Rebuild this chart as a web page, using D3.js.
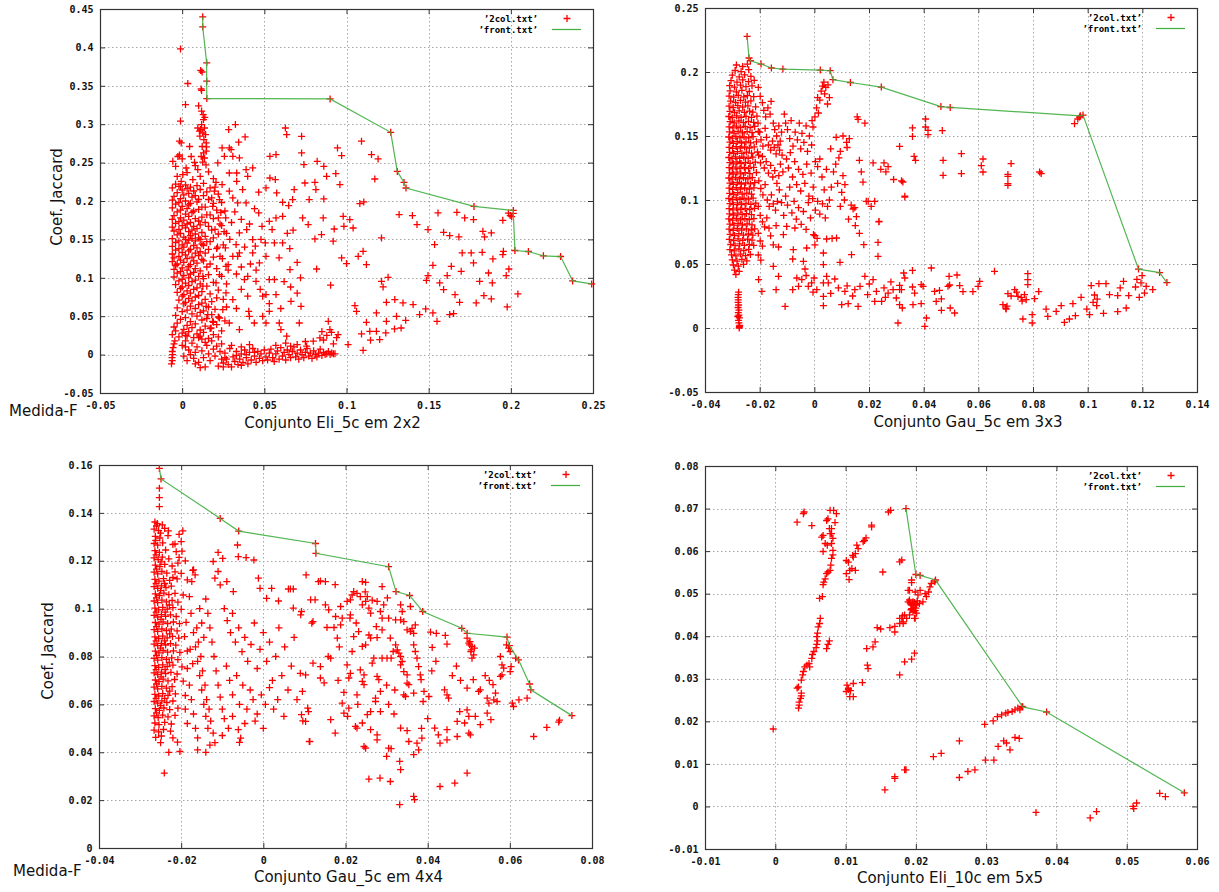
<!DOCTYPE html>
<html><head><meta charset="utf-8">
<script src="https://cdn.jsdelivr.net/npm/d3@7"></script>
<style>body{margin:0;background:#fff}</style></head>
<body><svg id="c" width="1219" height="892"></svg>
<script>
// ---------- Panel 1: Conjunto Eli_5c em 2x2 ----------
const eli2Front = [[.0125,.4398],[.0125,.4268],[.0149,.380],[.0149,.356],[.015,.3333],[.090,.333],[.1269,.2894],[.1309,.2385],[.135,.2242],[.1362,.2169],[.1776,.193],[.2015,.1877],[.2015,.184],[.2025,.1355],[.2107,.1342],[.2198,.1286],[.2303,.1277],[.2376,.096],[.2492,.0921]];
const eli2Upper = [[-.001,.398],[.0034,.353],[.0113,.370],[.0121,.368],[.0115,.346],[.0118,.344],[.002,.3255],[-.001,.304],[.010,.324],[.0118,.317],[.0128,.3125],[.013,.306],[.0118,.2995],[.0136,.295],[.0112,.293],[.0126,.2886],[.0142,.2865],[.0132,.28],[.0146,.2756],[.0122,.271],[.013,.2626],[.0116,.258],[.0146,.2648],[.0136,.256],[.0095,.295],[.0105,.291],[.0138,.309],[.0108,.2845],[.0148,.2705],[.0125,.2505],[.0145,.247],[-.0016,.278],[-.0006,.2756],[.0045,.271],[-.0026,.258],[-.0016,.260],[0,.255],[.0055,.258],[-.0057,.2517],[.0075,.2504],[-.004,.2452],[.0024,.243],[.0095,.2409],[.011,.232],[.0065,.2279],[.0004,.2344],[-.0006,.2257],[-.002,.2192],[.003,.237],[-.003,.232],[.008,.246],[.016,.238],[.019,.229]];
const eli2Column = [[-.004,.222],[-.001,.219],[.002,.221],[.005,.218],[.009,.220],[.013,.223],[.017,.217],[-.006,.217],[.000,.214],[.003,.216],[.007,.213],[.011,.215],[.020,.218],[-.003,.211],[.001,.208],[.004,.210],[.008,.207],[.015,.212],[.022,.209],[-.005,.206],[-.001,.203],[.006,.205],[.010,.202],[.013,.207],[.018,.204],[-.006,.201],[-.002,.198],[.002,.200],[.005,.197],[.009,.199],[.016,.202],[.024,.198],[-.004,.196],[.000,.193],[.004,.195],[.012,.192],[.019,.197],[-.006,.191],[-.001,.188],[.003,.190],[.007,.187],[.010,.189],[.014,.192],[.021,.188],[-.003,.186],[.002,.183],[.006,.185],[.017,.182],[.026,.187],[-.005,.181],[-.001,.178],[.004,.180],[.008,.177],[.012,.179],[.015,.182],[.022,.178],[-.006,.176],[-.002,.173],[.001,.175],[.005,.172],[.010,.174],[.019,.177],[-.004,.171],[.000,.168],[.003,.170],[.007,.167],[.011,.169],[.014,.172],[.024,.168],[-.006,.166],[-.002,.163],[.002,.165],[.006,.162],[.009,.164],[.016,.167],[.020,.163],[-.005,.161],[-.001,.158],[.004,.160],[.008,.157],[.012,.159],[.018,.162],[.027,.158],[-.003,.156],[.001,.153],[.005,.155],[.010,.152],[.014,.154],[.022,.157],[-.006,.151],[-.002,.148],[.002,.150],[.004,.149],[.006,.151],[.008,.148],[.011,.150],[.015,.147],[.019,.152],[-.004,.146],[.000,.143],[.003,.145],[.007,.142],[.012,.144],[.017,.147],[.025,.143],[-.006,.141],[-.002,.138],[.001,.140],[.005,.137],[.009,.139],[.013,.142],[.021,.138],[-.004,.136],[.000,.133],[.004,.135],[.008,.132],[.011,.134],[.016,.137],[-.006,.131],[-.002,.128],[.002,.130],[.006,.127],[.010,.129],[.014,.132],[.023,.128],[-.005,.126],[-.001,.123],[.003,.125],[.007,.122],[.012,.124],[.019,.127],[-.006,.121],[-.003,.118],[.001,.120],[.005,.117],[.009,.119],[.013,.122],[.017,.118],[-.004,.116],[.000,.113],[.004,.115],[.008,.112],[.015,.114],[.028,.117],[-.005,.111],[-.001,.108],[.003,.110],[.007,.107],[.011,.109],[.021,.112],[-.003,.106],[.001,.103],[.005,.105],[.010,.102],[.016,.104],[-.005,.101],[.000,.098],[.004,.100],[.008,.097],[.013,.099],[.024,.102],[-.002,.096],[.002,.093],[.006,.095],[.011,.092],[.019,.094],[-.004,.091],[.000,.088],[.004,.090],[.009,.087],[.015,.089],[.027,.092],[-.001,.086],[.003,.083],[.007,.085],[.012,.082],[.022,.084],[-.003,.081],[.001,.078],[.005,.080],[.010,.077],[.017,.079],[.000,.076],[.004,.073],[.008,.075],[.014,.072],[.021,.074],[-.002,.071],[.002,.068],[.006,.070],[.012,.067],[.018,.069],[.025,.072],[.001,.066],[.005,.063],[.010,.065],[.016,.062],[-.003,.061],[.003,.058],[.008,.060],[.013,.057],[.020,.059],[.027,.062],[.000,.056],[.006,.053],[.011,.055],[.018,.052],[-.004,.051],[.002,.048],[.009,.050],[.015,.047],[.022,.049],[-.001,.046],[.005,.043],[.012,.045],[.019,.042],[.026,.044],[-.003,.041],[.003,.038],[.008,.040],[.014,.037],[.021,.039],[-.005,.036],[.001,.033],[.006,.035],[.011,.032],[.017,.034],[.024,.031],[-.004,.031],[.000,.028],[.004,.030],[.009,.027],[.013,.029],[.019,.026],[-.006,.026],[-.002,.023],[.002,.025],[.007,.022],[.011,.024],[.016,.021],[.022,.023]];
const eli2Middle = [[.0217,.2496],[.0243,.2691],[.0283,.293],[.0324,.2995],[.0383,.2834],[.0344,.2765],[.0287,.2691],[.0308,.2582],[.0348,.2561],[.0257,.2582],[.0298,.2669],[.0389,.2409],[.0429,.2431],[.0399,.2322],[.0332,.2365],[.0287,.2365],[.0332,.2257],[.0368,.2148],[.0287,.2127],[.0243,.2214],[.0206,.2244],[.0196,.2127],[.0227,.2018],[.0186,.1931],[.0308,.204],[.0338,.1975],[.0389,.1975],[.0466,.2114],[.051,.217],[.0534,.23],[.0567,.2279],[.0575,.2105],[.0628,.2951],[.0636,.2865],[.0571,.2604],[.0534,.2582],[.0682,.2148],[.0672,.2018],[.0611,.1983],[.0648,.194],[.0611,.1801],[.0571,.178],[.053,.1736],[.0547,.1628],[.0466,.1845],[.0486,.1671],[.0429,.1497],[.0393,.1628],[.0348,.1584],[.0328,.1432],[.0263,.1389],[.0308,.128],[.0348,.1324],[.0429,.1324],[.0445,.1411],[.0506,.1454],[.0561,.1454],[.0611,.1454],[.051,.128],[.047,.1194],[.0399,.102],[.0379,.0977],[.0449,.0955],[.053,.0977],[.0561,.0977],[.051,.0781],[.0571,.0781],[.053,.0664],[.053,.0564],[.049,.0499],[.0409,.0499],[.0399,.076],[.049,.076],[.0405,.0564],[.0439,.0412],[.051,.0412],[.0591,.0412],[.0601,.0326],[.0662,.0694],[.0723,.0629],[.0713,.0412],[.0636,.0239],[.0656,.1107],[.0338,.128],[.0267,.115],[.0227,.1042],[.0206,.0933],[.0267,.0803],[.0308,.0716],[.0247,.0586],[.0227,.0477],[.0287,.0412],[.0348,.0326],[.0126,.102],[.0126,.089],[.0146,.0629],[.0156,.0521],[.0186,.0434],[.0176,.0347],[.0235,.185],[.0265,.178],[.0300,.172],[.0320,.186],[.0360,.176],[.0410,.170],[.0255,.160],[.0290,.150],[.0380,.140],[.0415,.118],[.0245,.125],[.0280,.110],[.0330,.105],[.0360,.114],[.0215,.140],[.0230,.170],[.0440,.190],[.0480,.150],[.0590,.126],[.0640,.158],[.0675,.162],[.0655,.138],[.0700,.120],[.0720,.100],[.0660,.088],[.0600,.060],[.0620,.095],[.0700,.080],[.0450,.110],[.0475,.085],[.0360,.085],[.0330,.060]];
const eli2Right = [[.0727,.2843],[.0727,.2626],[.0741,.2474],[.0747,.2235],[.0808,.2244],[.0814,.2148],[.0822,.2517],[.0862,.2452],[.0879,.2322],[.0935,.2357],[.0945,.2691],[.097,.2591],[.096,.2214],[.1091,.2778],[.1152,.2604],[.1192,.2548],[.1172,.2287],[.1081,.1966],[.1105,.1988],[.0773,.2018],[.0862,.2027],[.0733,.178],[.0767,.1693],[.0858,.178],[.0808,.1506],[.0848,.1563],[.0919,.1476],[.0925,.1636],[.098,.1801],[.0984,.1671],[.102,.1758],[.104,.1649],[.097,.1259],[.1,.1185],[.1071,.128],[.1101,.1345],[.1121,.1172],[.0818,.1115],[.0903,.0903],[.1213,.1519],[.132,.1823],[.1401,.181],[.1429,.1693],[.1496,.1628],[.1557,.1845],[.1591,.1593],[.1628,.1549],[.1672,.1853],[.1684,.1532],[.1719,.178],[.1773,.1758],[.183,.1606],[.184,.1532],[.1881,.1584],[.1951,.1749],[.1996,.181],[.1536,.1432],[.1704,.1324],[.1759,.1324],[.1773,.1194],[.1826,.1332],[.1891,.1246],[.1951,.1302],[.1955,.1345],[.1526,.1163],[.1638,.115],[.1496,.1029],[.1486,.0968],[.1567,.0933],[.1591,.0846],[.1613,.1029],[.1698,.1085],[.181,.0955],[.1864,.1063],[.1887,.0933],[.1972,.1029],[.1988,.1115],[.1836,.0768],[.1881,.0725],[.1789,.0673],[.1978,.0621],[.2043,.079],[.1688,.0681],[.1253,.1007],[.1213,.0955],[.1223,.0881],[.1294,.0716],[.1344,.0673],[.1405,.0651],[.1482,.0595],[.1445,.0521],[.1526,.0543],[.1551,.0434],[.1628,.0521],[.1652,.0534],[.1243,.0681],[.1051,.0638],[.1061,.0564],[.1182,.0543],[.1121,.0421],[.1243,.0434],[.1304,.0499],[.136,.0447],[.1332,.0347],[.1292,.0334],[.1091,.0269],[.1142,.0304],[.1182,.0304],[.1239,.0282],[.1202,.0195],[.1146,.0187],[.1101,.0056],[.101,.013],[.0899,.0326],[.0909,.0291],[.0889,.0434],[.0949,.026],[.0838,.0217],[.0798,.0174],[.0757,.0109],[.1985,.1842],[.2005,.1795],[.1660,.0780],[.086,.019],[.088,.025],[.092,.014],[.094,.022],[.085,.030]];
const eli2Bottom = [[-.0065,-.012],[-.006,-.008],[-.0062,-.004],[-.0058,.000],[-.006,.004],[-.0055,.009],[-.005,.014],[-.0045,.018],[.000,.012],[.002,.018],[.004,.006],[.001,-.002],[.003,-.008],[.006,.015],[.008,.003],[.007,-.005],[.009,.010],[.010,-.010],[.012,.005],[.012,.020],[.013,-.004],[.015,.012],[.016,.001],[.017,-.008],[.018,.018],[.019,.007],[.020,-.002],[.003,.024],[.010,.022],[.005,.000],[.014,.016],[.021,.011],[.023,.004],[.024,-.006],[.002,.010],[.008,-.012],[.011,-.017],[.014,-.016],[.022,-.015],[.025,-.011],[.026,.002],[.027,-.006],[.028,-.013],[.029,.008],[.030,-.016],[.031,-.003],[.032,-.009],[.033,.004],[.034,-.013],[.035,-.006],[.036,.001],[.037,-.010],[.038,.006],[.039,-.004],[.040,-.012],[.041,.003],[.042,-.007],[.043,.008],[.044,-.002],[.045,-.010],[.046,.004],[.047,-.005],[.048,.001],[.049,-.008],[.050,.006],[.024,.014],[.030,.012],[.036,.010],[.041,.013],[.026,-.004],[.033,-.001],[.039,.000],[.044,.003],[.025,-.016],[.036,-.014],[.051,-.003],[.052,-.007],[.053,.002],[.054,.007],[.055,-.004],[.056,-.009],[.057,.001],[.058,.005],[.059,-.006],[.060,.009],[.061,-.002],[.062,.003],[.063,-.007],[.064,.006],[.065,.000],[.066,-.004],[.067,.004],[.068,.010],[.069,-.003],[.070,.002],[.071,-.006],[.072,.006],[.073,.000],[.074,-.004],[.075,.003],[.076,.008],[.077,-.002],[.078,.002],[.079,-.005],[.080,.005],[.081,.000],[.082,-.003],[.083,.002],[.084,.007],[.085,-.001],[.086,.003],[.087,.000],[.088,.001],[.089,.004],[.090,.000],[.091,.002],[.092,.001],[.093,.001],[.057,.012],[.063,.015],[.070,.013],[.075,.017],[.066,.011]];

// ---------- Panel 2: Conjunto Gau_5c em 3x3 ----------
const gau3Front = [[-.0246,.2278],[-.0239,.2109],[-.0234,.2088],[-.0195,.2062],[-.0157,.2031],[-.0115,.2023],[.0022,.2015],[.0058,.201],[.0068,.194],[.0132,.1918],[.0245,.1882],[.0463,.173],[.0497,.1723],[.0973,.1658],[.0983,.1663],[.1186,.046],[.1263,.0433],[.129,.0355]];
const gau3Column = [[-.0285,.2055],[-.0262,.2043],[-.0245,.2062],[-.0290,.2012],[-.0268,.2003],[-.0240,.2018],[-.0300,.1975],[-.0275,.1962],[-.0255,.1978],[-.0232,.1966],[-.0305,.1932],[-.0283,.1921],[-.0262,.1938],[-.0241,.1925],[-.0220,.1934],[-.0310,.1893],[-.0292,.1882],[-.0270,.1897],[-.0250,.1885],[-.0228,.1892],[-.0308,.1853],[-.0285,.1845],[-.0265,.1857],[-.0238,.1848],[-.0312,.1812],[-.0295,.1803],[-.0278,.1818],[-.0258,.1806],[-.0245,.1815],[-.0222,.1808],[-.0306,.1773],[-.0288,.1762],[-.0270,.1778],[-.0252,.1765],[-.0232,.1774],[-.0312,.1733],[-.0297,.1722],[-.0280,.1737],[-.0262,.1726],[-.0243,.1735],[-.0215,.1728],[-.0309,.1692],[-.0292,.1683],[-.0275,.1697],[-.0256,.1685],[-.0237,.1694],[-.0225,.1686],[-.0313,.1652],[-.0300,.1643],[-.0284,.1657],[-.0268,.1645],[-.0250,.1654],[-.0230,.1646],[-.0210,.1655],[-.0308,.1612],[-.0293,.1603],[-.0276,.1617],[-.0259,.1605],[-.0241,.1614],[-.0222,.1606],[-.0312,.1572],[-.0298,.1563],[-.0285,.1577],[-.0270,.1565],[-.0253,.1574],[-.0235,.1566],[-.0218,.1575],[-.0310,.1532],[-.0294,.1523],[-.0279,.1537],[-.0263,.1525],[-.0246,.1534],[-.0228,.1526],[-.0205,.1535],[-.0313,.1492],[-.0300,.1483],[-.0287,.1497],[-.0272,.1485],[-.0257,.1494],[-.0240,.1486],[-.0224,.1495],[-.0309,.1452],[-.0296,.1443],[-.0282,.1457],[-.0266,.1445],[-.0250,.1454],[-.0233,.1446],[-.0212,.1455],[-.0312,.1412],[-.0299,.1403],[-.0286,.1417],[-.0271,.1405],[-.0255,.1414],[-.0238,.1406],[-.0220,.1415],[-.0310,.1372],[-.0295,.1363],[-.0281,.1377],[-.0265,.1365],[-.0248,.1374],[-.0230,.1366],[-.0208,.1375],[-.0313,.1332],[-.0301,.1323],[-.0288,.1337],[-.0273,.1325],[-.0258,.1334],[-.0242,.1326],[-.0225,.1335],[-.0309,.1292],[-.0296,.1283],[-.0283,.1297],[-.0268,.1285],[-.0252,.1294],[-.0235,.1286],[-.0216,.1295],[-.0312,.1252],[-.0300,.1243],[-.0287,.1257],[-.0272,.1245],[-.0256,.1254],[-.0240,.1246],[-.0222,.1255],[-.0310,.1212],[-.0297,.1203],[-.0283,.1217],[-.0269,.1205],[-.0253,.1214],[-.0236,.1206],[-.0212,.1215],[-.0313,.1172],[-.0301,.1163],[-.0288,.1177],[-.0274,.1165],[-.0259,.1174],[-.0243,.1166],[-.0227,.1175],[-.0309,.1132],[-.0296,.1123],[-.0282,.1137],[-.0267,.1125],[-.0251,.1134],[-.0234,.1126],[-.0218,.1135],[-.0312,.1092],[-.0299,.1083],[-.0286,.1097],[-.0271,.1085],[-.0255,.1094],[-.0238,.1086],[-.0221,.1095],[-.0310,.1052],[-.0295,.1043],[-.0280,.1057],[-.0264,.1045],[-.0247,.1054],[-.0230,.1046],[-.0313,.1012],[-.0300,.1003],[-.0286,.1017],[-.0272,.1005],[-.0257,.1014],[-.0241,.1006],[-.0224,.1015],[-.0309,.0972],[-.0296,.0963],[-.0281,.0977],[-.0266,.0965],[-.0250,.0974],[-.0232,.0966],[-.0214,.0975],[-.0312,.0932],[-.0298,.0923],[-.0284,.0937],[-.0269,.0925],[-.0253,.0934],[-.0236,.0926],[-.0219,.0935],[-.0310,.0892],[-.0295,.0883],[-.0280,.0897],[-.0264,.0885],[-.0248,.0894],[-.0230,.0886],[-.0313,.0852],[-.0299,.0843],[-.0285,.0857],[-.0270,.0845],[-.0254,.0854],[-.0238,.0846],[-.0221,.0855],[-.0309,.0812],[-.0294,.0803],[-.0279,.0817],[-.0263,.0805],[-.0246,.0814],[-.0228,.0806],[-.0312,.0772],[-.0297,.0763],[-.0282,.0777],[-.0266,.0765],[-.0249,.0774],[-.0231,.0766],[-.0218,.0775],[-.0308,.0732],[-.0292,.0723],[-.0276,.0737],[-.0259,.0725],[-.0241,.0734],[-.0225,.0726],[-.0311,.0692],[-.0295,.0683],[-.0279,.0697],[-.0262,.0685],[-.0244,.0694],[-.0228,.0686],[-.0306,.0652],[-.0290,.0643],[-.0273,.0657],[-.0256,.0645],[-.0238,.0654],[-.0222,.0646],[-.0309,.0612],[-.0293,.0603],[-.0276,.0617],[-.0258,.0605],[-.0240,.0614],[-.0303,.0572],[-.0287,.0563],[-.0270,.0577],[-.0252,.0565],[-.0234,.0574],[-.0300,.0532],[-.0283,.0523],[-.0265,.0537],[-.0247,.0525],[-.0296,.0492],[-.0278,.0483],[-.0259,.0497],[-.0292,.0452],[-.0275,.0443],[-.0287,.0418]];
const gau3LowColumn = [[-.0275,.000],[-.0273,.002],[-.0276,.004],[-.0277,.006],[-.0274,.008],[-.0276,.010],[-.0278,.012],[-.0276,.014],[-.0279,.016],[-.0277,.018],[-.0279,.020],[-.0278,.022],[-.0279,.024],[-.0278,.026],[-.0277,.028],[-.0274,.001],[-.0280,.009]];
const gau3Middle = [[-.0205,.188],[-.0198,.181],[-.0190,.176],[-.0185,.170],[-.0178,.165],[-.0170,.172],[-.0162,.167],[-.0158,.177],[-.0150,.160],[-.0145,.155],[-.0138,.150],[-.0130,.158],[-.0125,.146],[-.0120,.153],[-.0206,.160],[-.0200,.153],[-.0195,.147],[-.0188,.142],[-.0180,.156],[-.0175,.149],[-.0168,.143],[-.0160,.139],[-.0153,.146],[-.0147,.141],[-.0140,.136],[-.0133,.143],[-.0127,.139],[-.0204,.135],[-.0197,.129],[-.0190,.134],[-.0183,.125],[-.0176,.130],[-.0168,.121],[-.0160,.127],[-.0152,.118],[-.0145,.123],[-.0137,.113],[-.0130,.119],[-.0203,.115],[-.0196,.109],[-.0188,.104],[-.0180,.112],[-.0172,.100],[-.0165,.095],[-.0157,.104],[-.0150,.097],[-.0142,.092],[-.0135,.099],[-.0205,.095],[-.0198,.088],[-.0190,.083],[-.0182,.079],[-.0174,.086],[-.0166,.078],[-.0205,.074],[-.0198,.068],[-.0190,.064],[-.0205,.057],[-.0196,.053],[-.0160,.072],[-.0150,.065],[-.0140,.080],[-.0128,.108],[-.0124,.128],[-.0118,.135],[-.0115,.122],[-.0120,.098],[-.0112,.088],[-.0110,.167],[-.0105,.160],[-.0098,.155],[-.0090,.148],[-.0085,.162],[-.0078,.142],[-.0070,.153],[-.0062,.147],[-.0055,.160],[-.0050,.140],[-.0045,.152],[-.0038,.145],[-.0030,.158],[-.0025,.138],[-.0018,.150],[-.0010,.143],[-.0005,.157],[.0002,.165],[.0008,.172],[.0015,.168],[.0020,.178],[.0025,.185],[.0030,.189],[.0035,.192],[.0042,.188],[.0050,.190],[.0055,.180],[.0048,.175],[.0038,.183],[.0012,.180],[-.0008,.162],[-.0102,.132],[-.0095,.125],[-.0088,.137],[-.0080,.118],[-.0072,.130],[-.0065,.112],[-.0058,.124],[-.0050,.107],[-.0042,.120],[-.0035,.113],[-.0028,.128],[-.0020,.103],[-.0012,.121],[-.0004,.110],[.0004,.130],[.0012,.126],[.0020,.132],[.0028,.118],[.0036,.108],[.0044,.124],[-.0105,.103],[-.0098,.096],[-.0090,.110],[-.0082,.090],[-.0074,.099],[-.0066,.085],[-.0058,.094],[-.0048,.081],[-.0040,.091],[-.0030,.077],[-.0022,.098],[-.0014,.086],[-.0006,.101],[.0004,.092],[.0012,.099],[.0020,.089],[.0030,.097],[.0040,.086],[.0048,.095],[.0055,.100],[-.0003,.073],[.0010,.070],[.0002,.065],[.0062,.110],[.0070,.122],[.0078,.128],[.0085,.113],[.0090,.133],[.0095,.138],[.0100,.106],[.0105,.119],[.0112,.112],[.0120,.141],[.0128,.148],[.0135,.096],[.0142,.093],[.0148,.094],[.0154,.087],[.0157,.165],[.0160,.163],[.0165,.131],[.0172,.122],[.0178,.114],[.0185,.160],[.0190,.099],[.0197,.099],[.0208,.095],[.0215,.129],[.0221,.099],[.0236,.083],[.0243,.124],[.0255,.129],[.0262,.122],[.0270,.126],[.0290,.116],[.0319,.115],[.0331,.103],[.0080,.149],[.0105,.150],[.0118,.145],[.0060,.140],[.0065,.070],[.0095,.095],[.0110,.100],[.0150,.080],[.0165,.074],[.0125,.085]];
const gau3Right = [[.0312,.1419],[.0359,.1563],[.0359,.1497],[.0407,.1633],[.0407,.157],[.0416,.1544],[.0416,.151],[.0468,.1542],[.0365,.1341],[.037,.131],[.0471,.131],[.0538,.1362],[.0471,.1193],[.0538,.1206],[.0611,.1268],[.0617,.132],[.0617,.1219],[.072,.1284],[.0708,.12],[.0708,.1185],[.0708,.1128],[.0708,.1115],[.0824,.1219],[.083,.1206],[.0324,.1141],[.0331,.1023],[.0952,.1596],[.0964,.1633],[.097,.1648]];
const gau3Bottom = [[.0327,.043],[.0359,.045],[.0428,.0469],[.0312,.0333],[.0312,.03],[.0359,.032],[.0367,.0273],[.0391,.0339],[.0398,.0326],[.044,.0286],[.0458,.0294],[.0465,.0227],[.0493,.0404],[.0522,.0414],[.0489,.0326],[.0495,.0336],[.0532,.0331],[.0544,.0284],[.058,.0284],[.0599,.0326],[.0605,.0365],[.0659,.0443],[.069,.0182],[.0702,.0148],[.0708,.0268],[.0733,.0299],[.0745,.0247],[.0769,.026],[.0781,.0424],[.0781,.0378],[.0781,.0339],[.0775,.0221],[.0806,.0229],[.0821,.0284],[.0763,.007],[.0797,.0104],[.0797,.0039],[.0848,.0148],[.0854,.0091],[.0885,.013],[.0903,.0174],[.0915,.0044],[.0933,.007],[.0946,.019],[.0955,.0096],[.0976,.024],[.0997,.0148],[.1013,.0331],[.1007,.0104],[.1025,.0258],[.1033,.0174],[.1041,.0346],[.1058,.0115],[.1067,.0346],[.108,.026],[.111,.0253],[.111,.0128],[.1119,.0313],[.1131,.0365],[.1141,.0156],[.115,.0253],[.1175,.032],[.1189,.024],[.1199,.0409],[.1208,.0273],[.1214,.0326],[.1238,.03],[.0312,.0182],[.0361,.0182],[.0391,.019],[.041,.0078],[.0404,.0013],[.0446,.0208],[.0465,.0138],[.0497,.0156],[.0513,.0117],[.0700,.0155],[.0705,.0170],[.0720,.0250],[.0740,.0280],[.0757,.0240],[.0760,.0210],[.1020,.0200],[.1035,.0225],[.1180,.0380],[.1195,.0352],[-.0204,.0378],[-.0192,.0286],[-.014,.0299],[-.0107,.0169],[-.0079,.0299],[-.0046,.0378],[-.0079,.0539],[-.004,.0521],[-.0034,.0461],[-.0064,.0391],[-.0058,.0326],[-.0022,.0326],[-.001,.0352],[.0009,.0299],[-.0001,.0391],[.0033,.0352],[.0033,.0247],[.0033,.0174],[.0051,.0352],[.0075,.0383],[.0088,.0313],[.01,.0182],[.0112,.0286],[.0124,.019],[.0148,.0299],[.016,.0169],[.0167,.0326],[.0185,.0404],[.0201,.0344],[.0215,.0378],[.0221,.0208],[.0227,.0286],[.0246,.0208],[.0255,.0313],[.027,.0273],[.0288,.0299],[.03,.0234],[.0319,.0299],[.0322,.0156],[.0331,.0391],[.0306,.0039],[-.0131,.0404],[-.015,.0482],[-.0077,.0612],[-.0113,.0729],[-.0131,.0633],[.0033,.0495],[.0045,.0404],[.0094,.0513],[.0136,.0573],[.0233,.056],[.0233,.0669],[.0181,.0651],[.0237,.0833],[.0033,.0586],[.0002,.0721],[-.0028,.0625],[-.0071,.0781],[-.0101,.0794],[.0081,.0703],[.0045,.0695],[-.0005,.0280],[.0060,.0270],[.0140,.0250],[.0195,.0260],[.0260,.0240],[.0280,.0360],[.0120,.0330],[-.0030,.0410]];

// ---------- Panel 3: Conjunto Gau_5c em 4x4 ----------
const gau4Front = [[-.0253,.1586],[-.0249,.1542],[-.0105,.1377],[-.006,.1324],[.0127,.1272],[.0128,.1231],[.0305,.1175],[.0323,.1071],[.0356,.1055],[.0388,.0988],[.0483,.0918],[.0496,.0897],[.0593,.0881],[.0599,.0845],[.0621,.0786],[.0648,.0685],[.0651,.0661],[.0751,.0553]];
const gau4Column = [[-.0264,.1362],[-.0258,.1355],[-.0266,.1332],[-.0255,.1326],[-.0240,.1335],[-.0263,.1302],[-.0252,.1295],[-.0232,.1305],[-.0266,.1272],[-.0257,.1265],[-.0245,.1275],[-.0220,.1268],[-.0264,.1242],[-.0253,.1235],[-.0238,.1245],[-.0212,.1238],[-.0266,.1212],[-.0256,.1205],[-.0246,.1215],[-.0230,.1208],[-.0205,.1214],[-.0263,.1182],[-.0252,.1175],[-.0240,.1185],[-.0222,.1178],[-.0266,.1152],[-.0257,.1145],[-.0247,.1155],[-.0235,.1148],[-.0215,.1154],[-.0200,.1147],[-.0264,.1122],[-.0254,.1115],[-.0243,.1125],[-.0228,.1118],[-.0210,.1124],[-.0266,.1092],[-.0257,.1085],[-.0248,.1095],[-.0237,.1088],[-.0224,.1094],[-.0263,.1062],[-.0253,.1055],[-.0242,.1065],[-.0230,.1058],[-.0215,.1064],[-.0195,.1057],[-.0266,.1032],[-.0257,.1025],[-.0247,.1035],[-.0236,.1028],[-.0222,.1034],[-.0208,.1027],[-.0264,.1002],[-.0255,.0995],[-.0245,.1005],[-.0234,.0998],[-.0220,.1004],[-.0200,.0997],[-.0266,.0972],[-.0257,.0965],[-.0248,.0975],[-.0238,.0968],[-.0226,.0974],[-.0212,.0967],[-.0263,.0942],[-.0254,.0935],[-.0244,.0945],[-.0233,.0938],[-.0219,.0944],[-.0204,.0937],[-.0188,.0943],[-.0266,.0912],[-.0257,.0905],[-.0247,.0915],[-.0236,.0908],[-.0224,.0914],[-.0210,.0907],[-.0264,.0882],[-.0255,.0875],[-.0245,.0885],[-.0234,.0878],[-.0221,.0884],[-.0206,.0877],[-.0192,.0883],[-.0266,.0852],[-.0257,.0845],[-.0248,.0855],[-.0238,.0848],[-.0226,.0854],[-.0213,.0847],[-.0263,.0822],[-.0254,.0815],[-.0244,.0825],[-.0233,.0818],[-.0219,.0824],[-.0203,.0817],[-.0185,.0823],[-.0266,.0792],[-.0257,.0785],[-.0247,.0795],[-.0236,.0788],[-.0223,.0794],[-.0208,.0787],[-.0264,.0762],[-.0255,.0755],[-.0245,.0765],[-.0234,.0758],[-.0220,.0764],[-.0198,.0757],[-.0266,.0732],[-.0257,.0725],[-.0248,.0735],[-.0238,.0728],[-.0225,.0734],[-.0210,.0727],[-.0263,.0702],[-.0254,.0695],[-.0244,.0705],[-.0232,.0698],[-.0216,.0704],[-.0195,.0697],[-.0266,.0672],[-.0257,.0665],[-.0247,.0675],[-.0236,.0668],[-.0222,.0674],[-.0264,.0642],[-.0255,.0635],[-.0245,.0645],[-.0232,.0638],[-.0214,.0644],[-.0190,.0637],[-.0266,.0612],[-.0257,.0605],[-.0247,.0615],[-.0235,.0608],[-.0220,.0614],[-.0263,.0582],[-.0253,.0575],[-.0242,.0585],[-.0228,.0578],[-.0208,.0584],[-.0266,.0552],[-.0256,.0545],[-.0245,.0555],[-.0232,.0548],[-.0215,.0554],[-.0264,.0522],[-.0254,.0515],[-.0240,.0525],[-.0224,.0518],[-.0266,.0492],[-.0255,.0485],[-.0243,.0495],[-.0226,.0488],[-.0262,.0462],[-.0248,.0468],[-.0260,.1345],[-.0262,.1285],[-.0261,.1225],[-.0260,.1165],[-.0261,.1105],[-.0260,.1045],[-.0261,.0985],[-.0260,.0925],[-.0261,.0865],[-.0260,.0805],[-.0261,.0745],[-.0260,.0685],[-.0261,.0625],[-.0260,.0565],[-.0250,.1315],[-.0249,.1195],[-.0250,.1075],[-.0249,.0955],[-.0250,.0835],[-.0249,.0715],[-.0250,.0595],[-.0240,.1105],[-.0239,.0985],[-.0240,.0865],[-.0239,.0745],[-.0240,.0625],[-.0229,.1015],[-.0228,.0895],[-.0229,.0775],[-.0228,.0655],[-.0253,.1503],[-.0253,.1464],[-.0253,.1426],[-.0246,.135],[-.0231,.1325],[-.0196,.1325],[-.02,.128],[-.0241,.0313],[-.0209,.0442],[-.0203,.0403],[-.016,.041],[-.023,.040],[-.025,.044],[-.022,.046]];
const gau4Left = [[-.0190,.120],[-.0185,.112],[-.0180,.105],[-.0176,.098],[-.0172,.116],[-.0170,.090],[-.0165,.084],[-.0160,.078],[-.0155,.072],[-.0150,.066],[-.0145,.060],[-.0140,.055],[-.0135,.050],[-.0185,.075],[-.0180,.068],[-.0175,.062],[-.0170,.056],[-.0165,.050],[-.0160,.046],[-.0190,.058],[-.0185,.052],[-.0178,.083],[-.0172,.077],[-.0162,.092],[-.0158,.086],[-.0152,.080],[-.0148,.074],[-.0142,.068],[-.0138,.062],[-.0132,.058],[-.0128,.053],[-.0122,.048],[-.0118,.044],[-.0155,.100],[-.0150,.094],[-.0145,.088],[-.0140,.104],[-.0135,.098],[-.0130,.092],[-.0125,.086],[-.0120,.080],[-.0115,.074],[-.0110,.068],[-.0105,.063],[-.0100,.058],[-.0095,.054],[-.0122,.1197],[-.0110,.1235],[-.0099,.121],[-.0063,.1266],[-.0061,.1217],[-.0042,.1213],[-.0023,.1203],[-.017,.1162],[-.0166,.1141],[-.0174,.1113],[-.0118,.1127],[-.011,.1155],[-.0105,.1099],[-.0089,.1113],[-.0073,.1071],[-.0012,.1127],[-.0008,.1085],[.002,.1085],[.0008,.1043],[.0037,.1032],[.0061,.1082],[.0066,.1082],[.0073,.1082],[.0104,.1141],[.0134,.1113],[.0073,.1002],[.0093,.0988],[.0126,.1037],[.0118,.0939],[-.0095,.100],[-.0088,.095],[-.0080,.090],[-.0075,.098],[-.0068,.086],[-.0060,.092],[-.0052,.082],[-.0045,.088],[-.0038,.078],[-.0030,.085],[-.0022,.094],[-.0015,.075],[-.0008,.083],[.0000,.090],[.0008,.078],[.0015,.086],[.0022,.070],[.0030,.080],[.0038,.092],[.0045,.072],[.0052,.084],[.0060,.066],[.0068,.076],[.0075,.088],[.0082,.062],[.0090,.073],[-.0090,.076],[-.0082,.070],[-.0075,.064],[-.0065,.072],[-.0058,.060],[-.0050,.068],[-.0040,.058],[-.0032,.066],[-.0025,.062],[-.0015,.056],[-.0005,.064],[.0005,.060],[.0015,.067],[.0025,.058],[.0035,.062],[-.0085,.050],[-.0075,.055],[-.0061,.0494],[-.0055,.0459],[-.0058,.0441],[-.0045,.052],[.0050,.055],[.0112,.0445],[.0096,.0531],[.0093,.0557],[.0110,.057],[-.0100,.047],[-.0130,.043],[-.0140,.040],[-.0020,.053],[.0000,.050],[-.0205,.131],[-.0215,.127],[-.0198,.124],[-.0208,.119],[-.0220,.113]];
const gau4Right = [[.0139,.1116],[.0151,.1113],[.0115,.1037],[.0091,.0974],[.0121,.0946],[.0151,.1016],[.0159,.0995],[.0155,.0921],[.0176,.0967],[.018,.0877],[.0164,.0793],[.0139,.0758],[.0121,.0772],[.0103,.0723],[.0095,.0654],[.0108,.0584],[.0103,.0529],[.0139,.071],[.0164,.0536],[.0113,.0445],[.0188,.1009],[.0204,.103],[.0212,.1037],[.0216,.1057],[.022,.1071],[.0228,.1064],[.0236,.105],[.0192,.096],[.0211,.096],[.0212,.0974],[.0188,.0932],[.0172,.0921],[.0241,.1113],[.0249,.111],[.0253,.105],[.0249,.103],[.0241,.1016],[.0257,.1002],[.0261,.0981],[.0277,.103],[.0285,.0988],[.0289,.096],[.0275,.0925],[.0289,.0911],[.022,.0883],[.0232,.0904],[.0257,.089],[.0261,.0877],[.0277,.0879],[.0241,.0842],[.0249,.0849],[.0216,.0821],[.0204,.0765],[.0212,.073],[.0208,.071],[.0236,.0744],[.0245,.0723],[.0245,.0682],[.0241,.0696],[.0269,.0793],[.0265,.0772],[.0277,.0717],[.0281,.0703],[.0285,.0654],[.0273,.0626],[.0273,.0612],[.0261,.057],[.0253,.0557],[.0285,.057],[.0192,.0605],[.0196,.0563],[.0208,.0584],[.0224,.0508],[.0228,.0501],[.0241,.0522],[.0261,.0494],[.0277,.0473],[.0277,.0452],[.0245,.0424],[.0249,.0417],[.0257,.0288],[.0284,.0292],[.0309,.0278],[.03,.0383],[.0305,.0417],[.0311,.0415],[.0289,.0793],[.0301,.0793],[.0311,.0793],[.0316,.0821],[.0305,.096],[.0322,.0953],[.0334,.0953],[.0342,.0946],[.035,.0911],[.0358,.0904],[.0366,.0897],[.0362,.0918],[.037,.0932],[.0309,.0877],[.0322,.0849],[.0326,.0828],[.033,.0814],[.0334,.08],[.0338,.0779],[.0334,.0765],[.0342,.0737],[.035,.0723],[.0366,.0849],[.037,.0821],[.0374,.0793],[.0378,.0758],[.0382,.0723],[.0384,.0703],[.035,.0689],[.0354,.0682],[.0342,.064],[.0346,.0633],[.0366,.0647],[.0391,.0654],[.0403,.0633],[.0389,.0612],[.0334,.1016],[.0338,.0988],[.0358,.1009],[.0289,.1092],[.0293,.1016],[.0334,.0501],[.035,.049],[.0354,.0445],[.0374,.0438],[.0378,.041],[.0386,.0459],[.0366,.039],[.0332,.0362],[.0334,.0327],[.0366,.0216],[.0332,.0181],[.0368,.0202],[.0411,.0838],[.0407,.0902],[.0421,.0897],[.0443,.0888],[.0447,.0852],[.0441,.0661],[.0451,.0626],[.0447,.064],[.0417,.0501],[.0426,.0473],[.043,.0438],[.0447,.0452],[.0472,.0466],[.0447,.0494],[.043,.0257],[.0466,.0271],[.0496,.0313],[.0496,.0877],[.05,.0856],[.0502,.0849],[.0506,.0828],[.0512,.0807],[.0508,.0793],[.0511,.0703],[.0496,.0668],[.0528,.0661],[.0524,.0654],[.0478,.057],[.0496,.0577],[.05,.055],[.0516,.055],[.0472,.0529],[.049,.0522],[.0504,.0473],[.05,.048],[.0545,.0626],[.0549,.0605],[.0559,.0682],[.0565,.0647],[.0561,.0619],[.0569,.0612],[.0545,.0563],[.0554,.0536],[.0528,.0515],[.0577,.08],[.0581,.0765],[.0585,.0751],[.0577,.0717],[.0581,.0723],[.0601,.0737],[.0603,.0758],[.0606,.0605],[.0609,.0591],[.0622,.0619],[.0642,.0626],[.0658,.0466],[.069,.0504],[.0719,.0526],[.0721,.0534],[.0592,.0849],[.0597,.0835],[.0601,.0821],[.0614,.0793],[.0503,.0862],[.0508,.0842],[.0514,.0835],[.0505,.0820],[.0302,.1045],[.0248,.1070],[.0265,.1035],[.0226,.0940],[.0175,.1100],[.0185,.0840],[.0158,.0800],[.0148,.0690],[.0182,.0700],[.0196,.0650],[.0228,.0640],[.0230,.0600],[.0205,.0550],[.0175,.0480],[.0305,.0600],[.0318,.0560],[.0300,.0680],[.0320,.0660],[.0410,.0740],[.0420,.0780],[.0400,.0540],[.0385,.0500],[.0460,.0720],[.0470,.0760],[.0480,.0700],[.0540,.0720],[.0550,.0700]];

// ---------- Panel 4: Conjunto Eli_10c em 5x5 ----------
const eli5Front = [[.0186,.07],[.02,.0545],[.0206,.0543],[.0228,.0532],[.0352,.0234],[.0386,.0222],[.0582,.0032]];
const eli5Points = [[-.0003,.0182],[.0031,.0278],[.0033,.0281],[.0034,.0245],[.0034,.0238],[.0033,.0231],[.0036,.0254],[.0037,.0266],[.0037,.026],[.0037,.0297],[.0039,.0309],[.004,.0317],[.0042,.0328],[.0045,.0332],[.0048,.0336],[.0049,.0328],[.0052,.0348],[.0053,.0357],[.0055,.0364],[.0058,.0373],[.0059,.0381],[.006,.0389],[.0059,.0399],[.006,.0407],[.0061,.0422],[.0063,.043],[.0064,.0442],[.0073,.0371],[.0077,.0389],[.0063,.0489],[.0067,.0493],[.0068,.0521],[.0069,.0527],[.0071,.0535],[.0073,.0547],[.0075,.0551],[.0078,.0555],[.0079,.0567],[.008,.0583],[.0082,.0591],[.0082,.0602],[.008,.0618],[.0082,.063],[.008,.0641],[.008,.0653],[.0085,.0667],[.0087,.0688],[.0083,.0696],[.0078,.0696],[.0075,.0676],[.0073,.0672],[.0077,.0653],[.0078,.0641],[.0068,.0637],[.0066,.0633],[.0071,.0618],[.0068,.0599],[.0074,.0614],[.0031,.0668],[.004,.0688],[.0052,.066],[.0041,.0692],[.0075,.0381],[.0104,.0278],[.0101,.027],[.0106,.0258],[.0111,.0258],[.0102,.0285],[.0111,.0289],[.0104,.0275],[.0107,.0272],[.0101,.0578],[.0104,.0574],[.0106,.0555],[.0109,.0559],[.0111,.0586],[.011,.059],[.0114,.0594],[.0116,.0614],[.0118,.0606],[.0114,.0555],[.0101,.0547],[.0105,.0533],[.0125,.0622],[.0129,.0631],[.0127,.0625],[.0137,.0657],[.0137,.0661],[.0124,.0291],[.0131,.0332],[.0132,.0324],[.013,.0371],[.0139,.0375],[.0142,.0387],[.0145,.042],[.015,.0417],[.0153,.0551],[.0161,.0692],[.0164,.0696],[.0177,.0575],[.018,.0579],[.0163,.042],[.017,.0423],[.017,.041],[.0177,.0309],[.0184,.034],[.0194,.0346],[.0198,.036],[.0156,.0039],[.017,.007],[.017,.0066],[.0184,.0086],[.0186,.0086],[.0177,.0442],[.0181,.0448],[.0182,.043],[.0189,.0481],[.0191,.0485],[.0194,.0473],[.0196,.0461],[.0198,.0442],[.0191,.0508],[.0194,.0532],[.0201,.0454],[.0189,.0508],[.0194,.0526],[.0199,.0504],[.0196,.0481],[.0199,.0473],[.0194,.0465],[.0196,.0457],[.0191,.045],[.0199,.0442],[.0203,.0497],[.0206,.0508],[.021,.0481],[.0215,.0493],[.0218,.0504],[.022,.0516],[.0222,.0524],[.0227,.0528],[.0213,.05],[.0184,.045],[.018,.0442],[.0177,.043],[.0182,.0434],[.0187,.0442],[.0192,.0478],[.0195,.0476],[.0198,.0479],[.0201,.0474],[.0197,.0468],[.02,.0466],[.0193,.0462],[.0202,.0483],[.0205,.0477],[.0199,.046],[.0225,.0117],[.0236,.0125],[.0262,.0154],[.0262,.0068],[.0274,.0082],[.0284,.0086],[.0298,.0193],[.0299,.0109],[.0311,.0109],[.031,.0201],[.0316,.0211],[.0322,.0215],[.0328,.0219],[.0331,.0221],[.0337,.0223],[.0341,.0227],[.0345,.0231],[.0348,.0227],[.0351,.0235],[.0317,.0141],[.0325,.0154],[.0329,.0149],[.0334,.0133],[.0341,.0162],[.0347,.016],[.0371,-.0014],[.0448,-.0027],[.0457,-.0012],[.0509,.0],[.051,-.0005],[.0514,.0008],[.0547,.0031],[.0555,.0023]];

// ---------- Axes: tick values and labels ----------
const p1XTicks = [-0.05,0,0.05,0.1,0.15,0.2,0.25];
const p1XLabels = ["-0.05","0","0.05","0.1","0.15","0.2","0.25"];
const p1YTicks = [-0.05,0,0.05,0.1,0.15,0.2,0.25,0.3,0.35,0.4,0.45];
const p1YLabels = ["-0.05","0","0.05","0.1","0.15","0.2","0.25","0.3","0.35","0.4","0.45"];
const p2XTicks = [-0.04,-0.02,0,0.02,0.04,0.06,0.08,0.1,0.12,0.14];
const p2XLabels = ["-0.04","-0.02","0","0.02","0.04","0.06","0.08","0.1","0.12","0.14"];
const p2YTicks = [-0.05,0,0.05,0.1,0.15,0.2,0.25];
const p2YLabels = ["-0.05","0","0.05","0.1","0.15","0.2","0.25"];
const p3XTicks = [-0.04,-0.02,0,0.02,0.04,0.06,0.08];
const p3XLabels = ["-0.04","-0.02","0","0.02","0.04","0.06","0.08"];
const p3YTicks = [0,0.02,0.04,0.06,0.08,0.1,0.12,0.14,0.16];
const p3YLabels = ["0","0.02","0.04","0.06","0.08","0.1","0.12","0.14","0.16"];
const p4XTicks = [-0.01,0,0.01,0.02,0.03,0.04,0.05,0.06];
const p4XLabels = ["-0.01","0","0.01","0.02","0.03","0.04","0.05","0.06"];
const p4YTicks = [-0.01,0,0.01,0.02,0.03,0.04,0.05,0.06,0.07,0.08];
const p4YLabels = ["-0.01","0","0.01","0.02","0.03","0.04","0.05","0.06","0.07","0.08"];
const xTitles = ["Conjunto Eli_5c em 2x2","Conjunto Gau_5c em 3x3","Conjunto Gau_5c em 4x4","Conjunto Eli_10c em 5x5"];
const yTitle = "Coef. Jaccard";
const cornerLabel = "Medida-F";
const legendLabels = ["\u20192col.txt\u2019","\u2019front.txt\u2019"];

const panels = [
  {L:100,T:9,W:493,H:384,xd:[-0.05,0.25],yd:[-0.05,0.45],xt:p1XTicks,xl:p1XLabels,yt:p1YTicks,yl:p1YLabels,title:xTitles[0],tx:332.5,ty:428,yLab:{x:61.5,y:197},corner:{x:9,y:416},
   pts:[eli2Upper,eli2Column,eli2Middle,eli2Right,eli2Bottom],front:eli2Front},
  {L:705,T:8,W:492,H:384,xd:[-0.04,0.14],yd:[-0.05,0.25],xt:p2XTicks,xl:p2XLabels,yt:p2YTicks,yl:p2YLabels,title:xTitles[1],tx:968,ty:427,
   pts:[gau3Column,gau3LowColumn,gau3Middle,gau3Right,gau3Bottom],front:gau3Front},
  {L:99,T:465,W:493,H:383,xd:[-0.04,0.08],yd:[0,0.16],xt:p3XTicks,xl:p3XLabels,yt:p3YTicks,yl:p3YLabels,title:xTitles[2],tx:348.5,ty:882,yLab:{x:52.5,y:651},corner:{x:13,y:876},
   pts:[gau4Column,gau4Left,gau4Right],front:gau4Front},
  {L:705,T:466,W:492,H:383,xd:[-0.01,0.06],yd:[-0.01,0.08],xt:p4XTicks,xl:p4XLabels,yt:p4YTicks,yl:p4YLabels,title:xTitles[3],tx:950,ty:883,
   pts:[eli5Points],front:eli5Front}
];

const svg = d3.select("#c");
const RED = "#ff0000", GREEN = "#3fae3f";
const plus = "M-3.5,0H3.5M0,-3.5V3.5";
const tickFont = "'DejaVu Sans Mono', monospace";
const titleFont = "'DejaVu Sans', sans-serif";

panels.forEach(p => {
  const x = d3.scaleLinear().domain(p.xd).range([p.L, p.L + p.W]);
  const y = d3.scaleLinear().domain(p.yd).range([p.T + p.H, p.T]);
  const g = svg.append("g");

  const gx = p.xt.slice(1, -1), gy = p.yt.slice(1, -1);
  g.append("g").selectAll("line").data(gx).join("line")
    .attr("x1", d => Math.round(x(d)) + 0.5).attr("x2", d => Math.round(x(d)) + 0.5)
    .attr("y1", p.T).attr("y2", p.T + p.H)
    .attr("stroke", "#a8a8a8").attr("stroke-dasharray", "1.5,2.5");
  g.append("g").selectAll("line").data(gy).join("line")
    .attr("y1", d => Math.round(y(d)) + 0.5).attr("y2", d => Math.round(y(d)) + 0.5)
    .attr("x1", p.L).attr("x2", p.L + p.W)
    .attr("stroke", "#a8a8a8").attr("stroke-dasharray", "1.5,2.5");

  const fx = (d) => p.xl[p.xt.indexOf(d)];
  const fy = (d) => p.yl[p.yt.indexOf(d)];
  const ax = g.append("g").attr("transform", `translate(0,${p.T + p.H})`)
    .call(d3.axisBottom(x).tickValues(p.xt).tickFormat(fx).tickSize(-5).tickPadding(8.5));
  const ay = g.append("g").attr("transform", `translate(${p.L},0)`)
    .call(d3.axisLeft(y).tickValues(p.yt).tickFormat(fy).tickSize(-5).tickPadding(6.5));
  const at = g.append("g").attr("transform", `translate(0,${p.T})`)
    .call(d3.axisTop(x).tickValues(p.xt).tickFormat("").tickSize(-5));
  const ar = g.append("g").attr("transform", `translate(${p.L + p.W},0)`)
    .call(d3.axisRight(y).tickValues(p.yt).tickFormat("").tickSize(-5));
  [ax, ay, at, ar].forEach(a => {
    a.select(".domain").remove();
    a.selectAll("line").attr("stroke", "#333");
    a.selectAll("text").attr("font-family", tickFont).attr("font-size", 10).attr("font-weight", "bold").attr("fill", "#111");
  });

  g.append("rect").attr("x", p.L + 0.5).attr("y", p.T + 0.5).attr("width", p.W).attr("height", p.H)
    .attr("fill", "none").attr("stroke", "#333").attr("stroke-width", 1.2);

  const all = p.pts.flat().concat(p.front);
  g.append("path")
    .attr("d", all.map(d => `M${x(d[0]).toFixed(1)},${y(d[1]).toFixed(1)}m-3.5,0h7m-3.5,-3.5v7`).join(""))
    .attr("fill", "none").attr("stroke", RED).attr("stroke-width", 1.3);

  g.append("path").datum(p.front)
    .attr("d", d3.line().x(d => x(d[0])).y(d => y(d[1])))
    .attr("fill", "none").attr("stroke", GREEN).attr("stroke-width", 1.2).attr("opacity", 0.9);

  const R = p.L + p.W;
  g.append("text").attr("x", R - 55).attr("y", p.T + 12.5).attr("text-anchor", "end")
    .attr("font-family", tickFont).attr("font-size", 9).attr("font-weight", "bold").text(legendLabels[0]);
  g.append("path").attr("transform", `translate(${R - 26},${p.T + 9.5})`).attr("d", plus)
    .attr("stroke", RED).attr("stroke-width", 1.3);
  g.append("text").attr("x", R - 55).attr("y", p.T + 23.5).attr("text-anchor", "end")
    .attr("font-family", tickFont).attr("font-size", 9).attr("font-weight", "bold").text(legendLabels[1]);
  g.append("line").attr("x1", R - 41).attr("x2", R - 12).attr("y1", p.T + 20.5).attr("y2", p.T + 20.5)
    .attr("stroke", GREEN).attr("stroke-width", 1.2);

  g.append("text").attr("x", p.tx).attr("y", p.ty).attr("text-anchor", "middle")
    .attr("font-family", titleFont).attr("font-size", 15).attr("fill", "#111").text(p.title);
  if (p.yLab) {
    g.append("text").attr("transform", `translate(${p.yLab.x},${p.yLab.y}) rotate(-90)`)
      .attr("text-anchor", "middle").attr("font-family", titleFont).attr("font-size", 15).attr("fill", "#111").text(yTitle);
    g.append("text").attr("x", p.corner.x).attr("y", p.corner.y)
      .attr("font-family", titleFont).attr("font-size", 15).attr("fill", "#111").text(cornerLabel);
  }
});
</script>
</body></html>
